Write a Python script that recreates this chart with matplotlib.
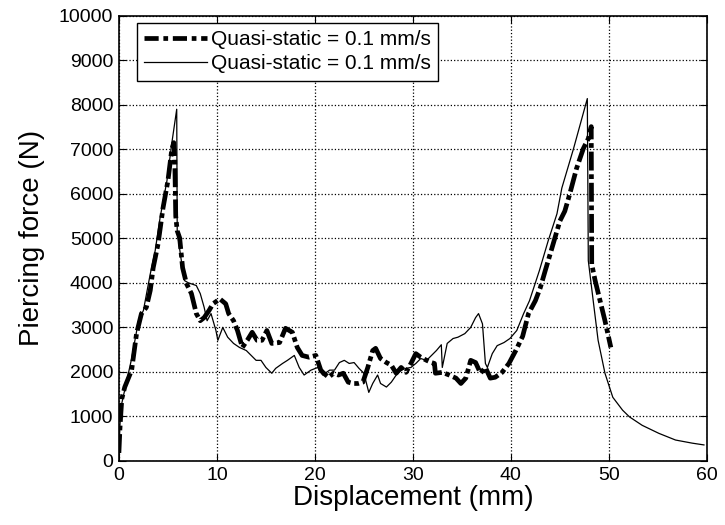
import numpy as np
import matplotlib
matplotlib.use('Agg')
import matplotlib.pyplot as plt

plt.rcParams['font.family'] = ['Liberation Sans', 'DejaVu Sans']

# thick dash-dot curve (x in mm, force in N)
disp_a = [0, 0.1, 0.2, 0.3, 0.6, 1.3, 1.8, 2.3, 2.8, 3.2, 3.5, 4.0, 4.5, 5.0, 5.4, 5.6, 5.7,
          5.8, 5.95, 6.2, 6.5, 6.9, 7.4, 7.9, 8.3, 8.7, 9.2, 9.6, 10.3, 10.9, 11.2, 11.7, 12.1,
          12.6, 13.1, 13.6, 14.1, 14.6, 15.1, 15.6, 16.4, 17.0, 17.7, 18.2, 18.7, 19.4, 20.1,
          20.6, 20.9, 21.4, 21.9, 22.4, 22.9, 23.4, 23.9, 24.4, 24.9, 25.4, 25.9, 26.2, 26.7,
          27.3, 27.8, 28.3, 28.8, 29.3, 29.8, 30.3, 30.8, 31.4, 31.9, 32.2, 32.3, 33.0, 33.7,
          34.4, 34.9, 35.4, 35.9, 36.4, 36.9, 37.4, 37.9, 38.4, 39.1, 39.8, 40.5, 41.2, 41.8,
          42.5, 43.0, 43.5, 44.2, 45.0, 45.5, 46.0, 46.7, 47.4, 47.9, 48.2, 48.25, 48.6, 49.1,
          49.6, 50.2]
force_a = [180, 700, 1070, 1400, 1660, 2040, 2860, 3310, 3450, 3830, 4340, 4880, 5680, 6290,
           7000, 7150, 6800, 5500, 5170, 5010, 4340, 3980, 3760, 3310, 3150, 3220, 3380, 3530,
           3640, 3530, 3310, 3150, 2930, 2550, 2710, 2890, 2710, 2710, 2930, 2640, 2660, 2980,
           2890, 2550, 2370, 2330, 2370, 2040, 1970, 1880, 1970, 1930, 1970, 1770, 1740, 1740,
           1770, 2100, 2480, 2530, 2300, 2210, 2150, 1970, 2100, 1990, 2190, 2410, 2330, 2260,
           2210, 2190, 1970, 1990, 1930, 1860, 1740, 1860, 2260, 2210, 1970, 2100, 1860, 1880,
           1990, 2190, 2480, 2800, 3310, 3600, 3890, 4270, 4790, 5390, 5610, 5990, 6570, 7020,
           7240, 7510, 4420, 4050, 3600, 3150, 2550]

# thin solid curve
disp_b = [0, 0.1, 0.3, 0.8, 1.3, 2.0, 2.5, 3.2, 3.7, 4.2, 4.9, 5.4, 5.9, 5.95, 6.3, 6.7, 7.1,
          7.9, 8.3, 8.7, 9.0, 9.4, 9.9, 10.1, 10.6, 11.1, 11.7, 12.3, 13.0, 13.5, 14.0, 14.5,
          15.0, 15.6, 16.0, 16.7, 17.2, 17.9, 18.4, 18.9, 19.6, 20.3, 20.8, 21.5, 22.0, 22.5,
          23.0, 23.5, 24.0, 24.5, 25.0, 25.5, 25.9, 26.4, 26.7, 27.3, 27.8, 28.3, 28.8, 29.3,
          29.8, 30.3, 30.8, 31.4, 31.9, 32.4, 32.9, 33.0, 33.5, 34.1, 34.6, 35.3, 35.9, 36.4,
          36.7, 37.1, 37.4, 37.6, 38.1, 38.6, 39.3, 39.9, 40.6, 41.3, 41.9, 42.9, 43.8, 44.7,
          45.2, 46.4, 47.8, 47.9, 48.4, 48.9, 49.6, 50.4, 51.4, 52.1, 53.4, 55.1, 56.8, 58.5,
          59.7]
force_b = [0, 800, 1300, 1800, 2300, 3150, 3380, 4200, 4720, 5460, 6290, 7140, 7900, 5170,
           4600, 4050, 4000, 3940, 3760, 3450, 3150, 3310, 2930, 2710, 3000, 2780, 2640, 2550,
           2480, 2370, 2260, 2260, 2100, 1970, 2080, 2190, 2260, 2370, 2100, 1930, 2040, 2100,
           1930, 2040, 2040, 2210, 2260, 2190, 2210, 2080, 1970, 1540, 1740, 1930, 1740, 1660,
           1770, 1930, 2040, 2080, 2100, 2190, 2300, 2260, 2370, 2480, 2610, 2100, 2640, 2750,
           2780, 2860, 3000, 3220, 3310, 3080, 2190, 2100, 2410, 2590, 2660, 2750, 2930, 3310,
           3600, 4270, 4940, 5550, 6130, 7020, 8140, 4500, 3600, 2710, 1970, 1430, 1140, 990,
           800, 620, 470, 400, 360]

labels = ['Quasi-static = 0.1 mm/s', 'Quasi-static = 0.1 mm/s']

fig = plt.figure(figsize=(7.25, 5.25), dpi=100)
ax = fig.add_axes([0.164, 0.122, 0.811, 0.848])

ax.plot(disp_a, force_a, color='black', lw=3.4, ls=(0, (4, 0.8, 1.0, 0.8)), label=labels[0])
ax.plot(disp_b, force_b, color='black', lw=0.9, label=labels[1])

ax.set_xlim(0, 60)
ax.set_ylim(0, 10000)
ax.set_xticks(np.arange(0, 61, 10))
ax.set_yticks(np.arange(0, 10001, 1000))
ax.tick_params(direction='in', top=True, right=True, labelsize=14, length=5, pad=4)
ax.grid(True, ls=':', color='black', lw=0.9)
for s in ax.spines.values():
    s.set_linewidth(1.2)

ax.set_xlabel('Displacement (mm)', fontsize=20, labelpad=1)
ax.set_ylabel('Piercing force (N)', fontsize=20, labelpad=10)

leg = ax.legend(loc='upper left', bbox_to_anchor=(0.031, 0.984), borderaxespad=0,
                fontsize=15, handlelength=3.0, handletextpad=0.2, fancybox=False,
                framealpha=1, borderpad=0.35, labelspacing=0.25)
leg.get_frame().set_edgecolor('black')
leg.get_frame().set_linewidth(1.0)
for h in leg.get_lines()[:1]:
    h.set_dashes((3, 1, 1, 1))

fig.savefig('out.png', dpi=100)
